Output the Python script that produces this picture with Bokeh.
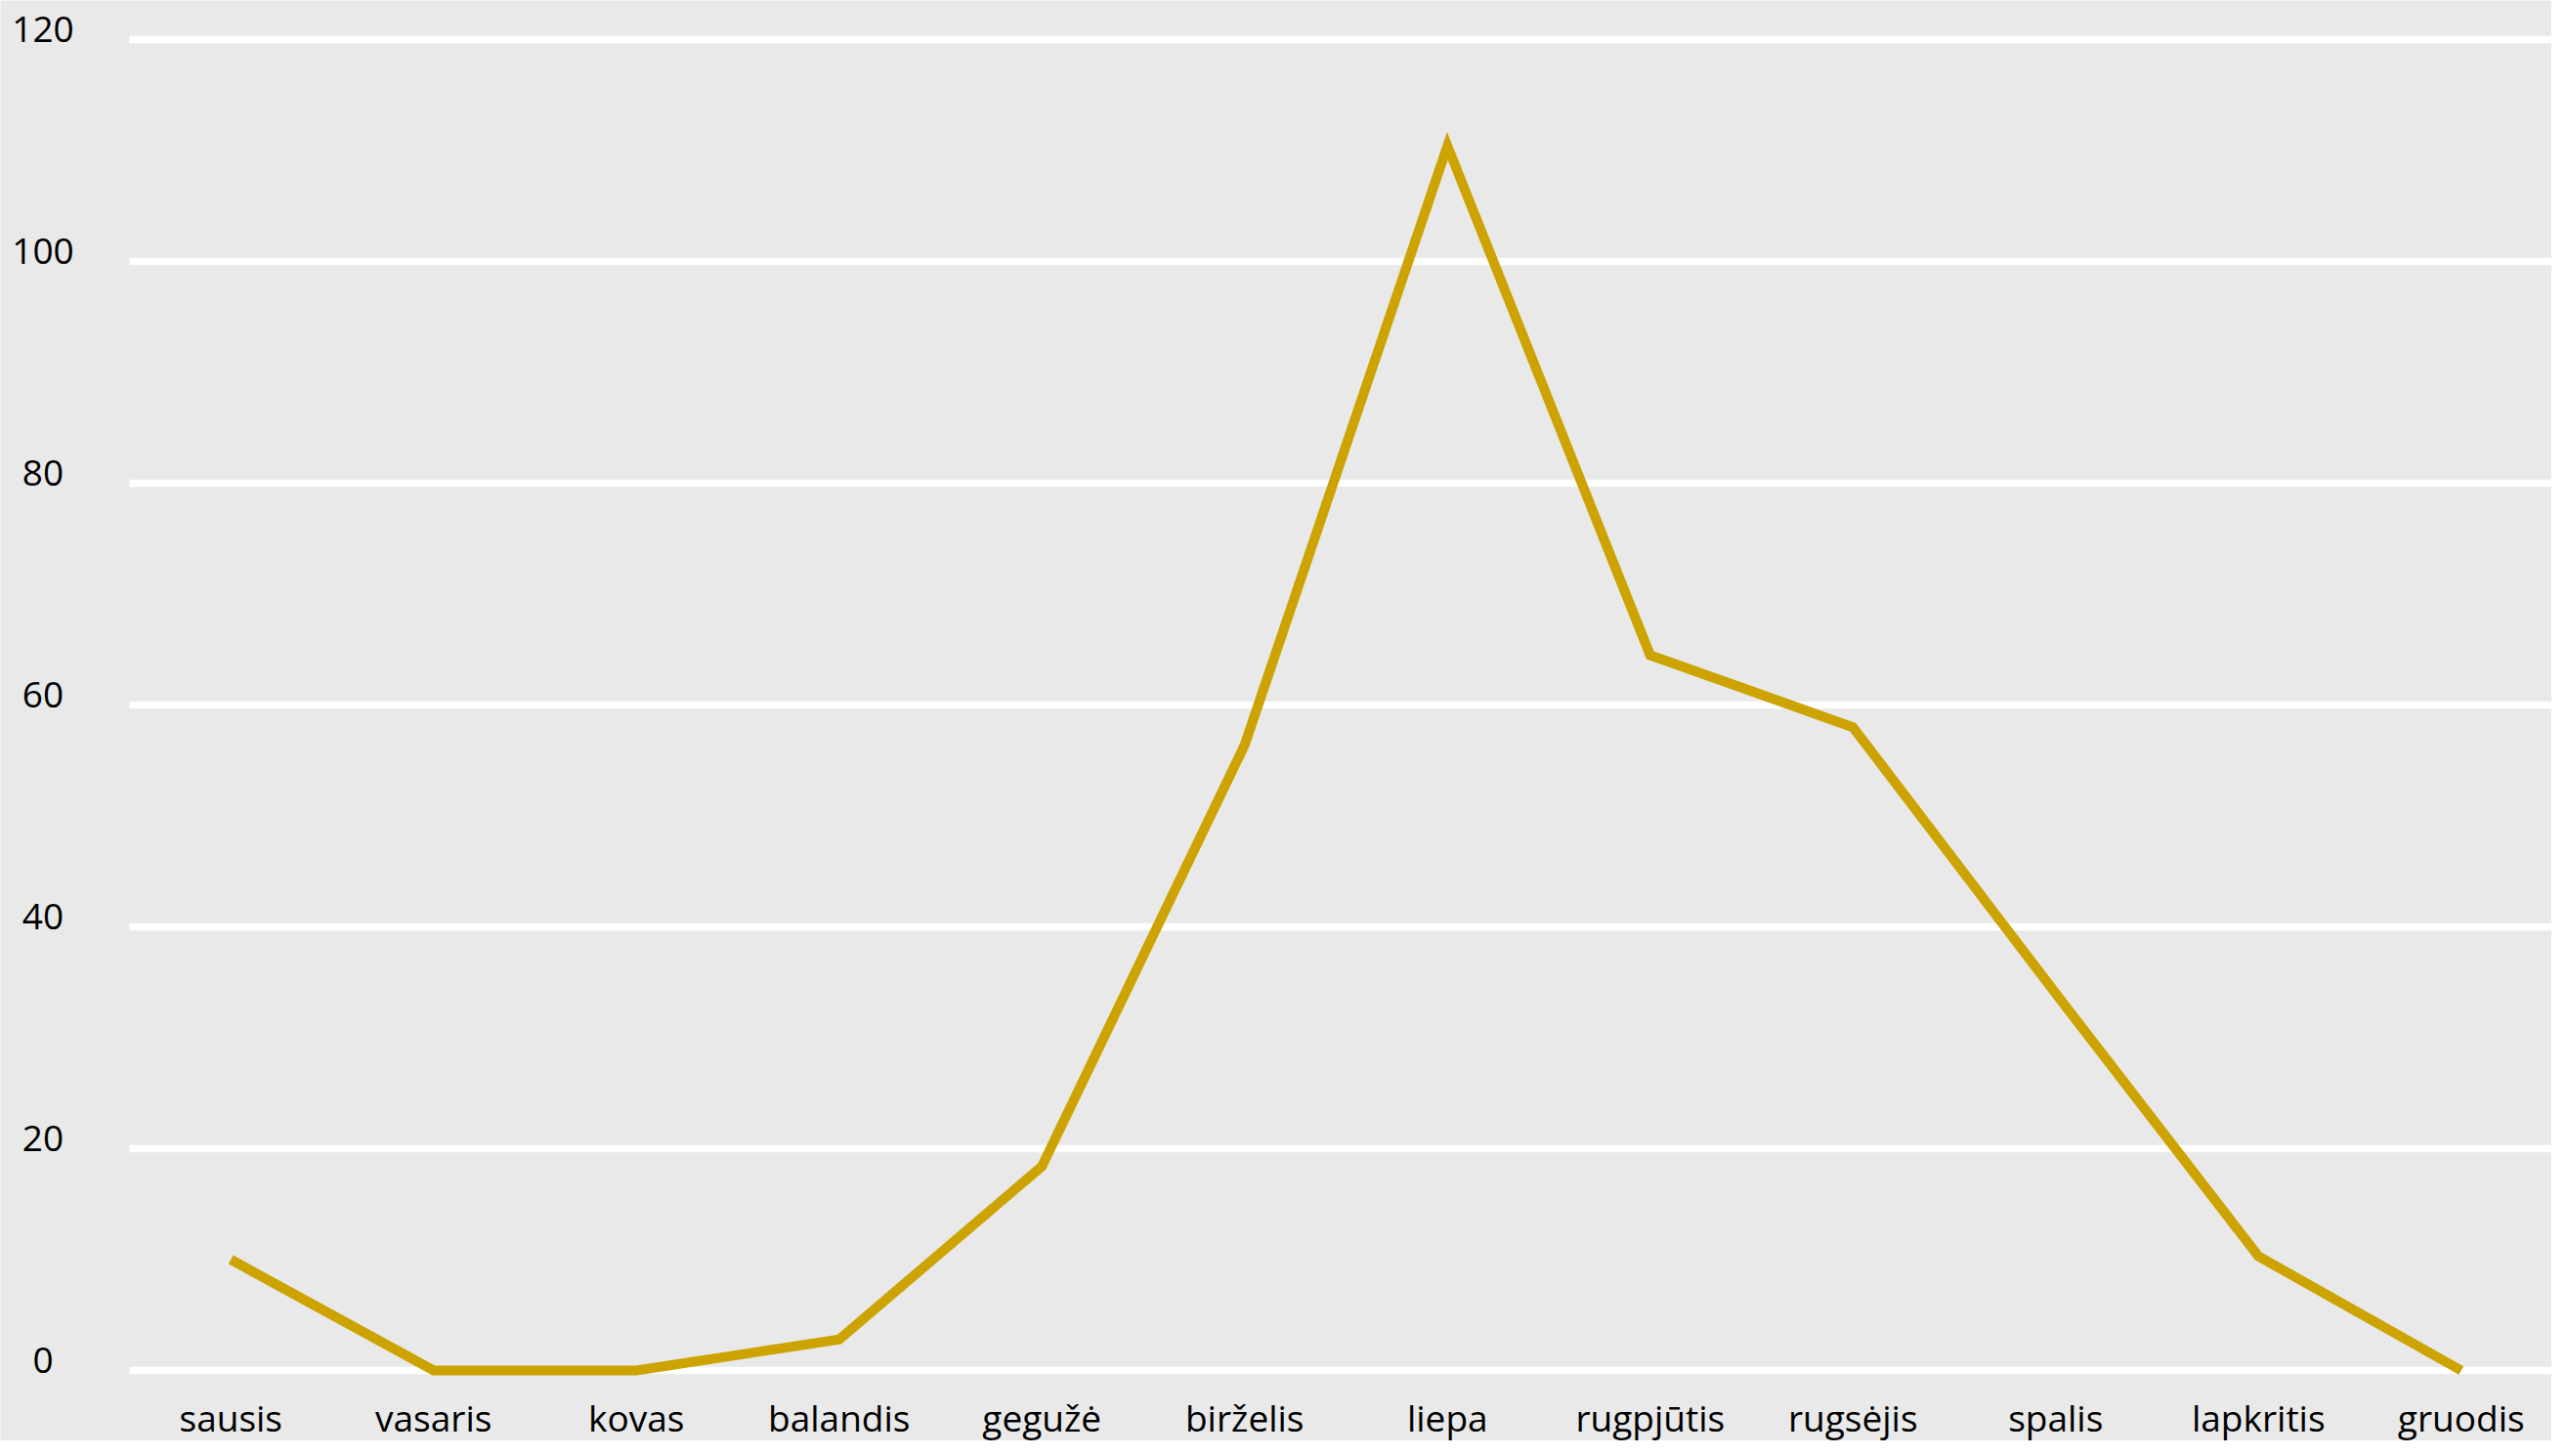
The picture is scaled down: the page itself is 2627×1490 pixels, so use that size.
from bokeh.plotting import figure
from bokeh.models import ColumnDataSource, Range1d, LabelSet
from bokeh.core.properties import value
from bokeh.embed import file_html
from bokeh.resources import INLINE

# ---- data ----
months = ["sausis", "vasaris", "kovas", "balandis", "gegužė", "birželis",
          "liepa", "rugpjūtis", "rugsėjis", "spalis", "lapkritis", "gruodis"]
values = [10, 0, 0, 2.8, 18.4, 56.4, 110.4, 64.5, 58, 34, 10.3, 0]
y_ticks = [0, 20, 40, 60, 80, 100, 120]
y_tick_labels = [str(t) for t in y_ticks]

BG = "#E9E9E9"
LINE = "#CCA300"
FONT = "Open Sans"
FS = "37px"

W, H = 2611, 1474
LEFT = 132          # px where the plotting band (grid lines) begins
CAT_PX = 207.5      # px per month category
ZERO_PX = 1402      # px (from top) of the 0 line
UNIT_PX = 11.35     # px per y unit

n = len(months)
xpos = list(range(n))
x_lo = -0.5
x_hi = n - 0.5

x_start = x_lo - LEFT / CAT_PX
x_end = x_start + W / CAT_PX
y_end = ZERO_PX / UNIT_PX
y_start = -(H - ZERO_PX) / UNIT_PX

p = figure(width=W, height=H,
           x_range=Range1d(x_start, x_end), y_range=Range1d(y_start, y_end),
           x_axis_location=None, y_axis_location=None,
           output_backend="svg", toolbar_location=None,
           min_border_left=0, min_border_right=0,
           min_border_top=0, min_border_bottom=0)

p.background_fill_color = BG
p.border_fill_color = BG
p.outline_line_color = None
for g in list(p.grid):
    g.visible = False

# horizontal grid lines across the category band
gsrc = ColumnDataSource(dict(y=y_ticks, x0=[x_lo] * len(y_ticks), x1=[x_hi] * len(y_ticks)))
p.segment(x0="x0", y0="y", x1="x1", y1="y", source=gsrc,
          line_color="white", line_width=7.5, line_cap="butt")

# data line
src = ColumnDataSource(dict(x=xpos, value=values, month=months))
p.line(x="x", y="value", source=src, line_width=10, line_color=LINE,
       line_join="miter", line_cap="butt")

# y tick labels, centred left of the band, sitting on their grid lines
ysrc = ColumnDataSource(dict(y=y_ticks, x=[x_lo - (LEFT - 43.5) / CAT_PX] * len(y_ticks),
                             text=y_tick_labels))
p.add_layout(LabelSet(x="x", y="y", text="text", source=ysrc,
                      text_font=value(FONT), text_font_size=value(FS),
                      text_color="black", text_align="center",
                      text_baseline="alphabetic", y_offset=-2))

# month labels along the bottom
xsrc = ColumnDataSource(dict(x=xpos, text=months))
p.add_layout(LabelSet(x="x", y=10, y_units="screen", text="text", source=xsrc,
                      text_font=value(FONT), text_font_size=value(FS),
                      text_color="black", text_align="center",
                      text_baseline="alphabetic"))

open("out.html", "w").write(file_html(p, INLINE))
